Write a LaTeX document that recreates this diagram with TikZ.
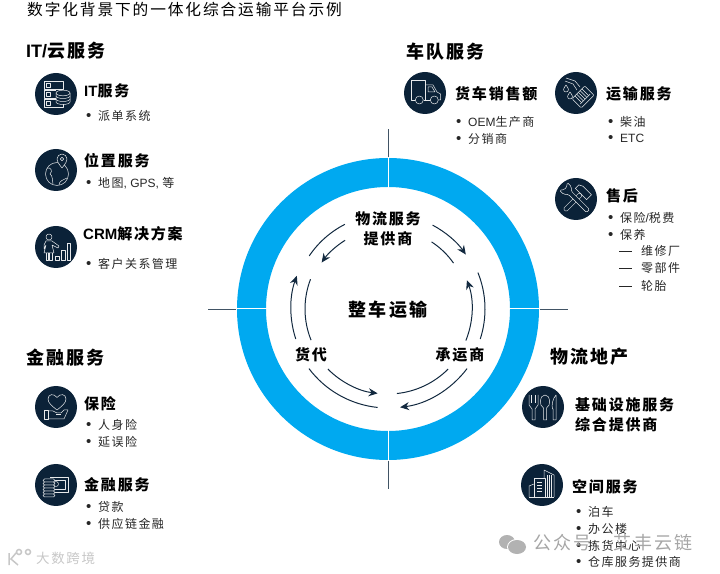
\documentclass[tikz,border=0pt]{standalone}
\usepackage{fontspec}
\setmainfont[LetterSpace=12]{Noto Sans CJK SC}
\newfontfamily\latfont{Liberation Sans}
\usetikzlibrary{arrows.meta}
\definecolor{ringblue}{HTML}{00A9F0}
\definecolor{iconnavy}{HTML}{0B2238}
\definecolor{flownavy}{HTML}{12293F}
\newcommand{\lat}[1]{{\latfont #1}}
\newcommand{\bul}{\makebox[12pt][l]{\lat{\fontsize{15}{14}\selectfont •}}}
\tikzset{
    titletext/.style={anchor=west, inner sep=0pt, font=\fontsize{15.7}{18}\selectfont},
    headtext/.style={anchor=west, inner sep=0pt, font=\fontsize{18}{22}\selectfont\bfseries},
    subtext/.style={anchor=west, inner sep=0pt, align=left, font=\fontsize{15}{20}\selectfont\bfseries},
    itemtext/.style={anchor=west, inner sep=0pt, font=\fontsize{12}{14}\selectfont, text=black!85},
    hubtext/.style={align=center, inner sep=0pt, font=\fontsize{15}{20}\selectfont\bfseries},
    icondisc/.style={circle, fill=iconnavy, minimum size=42pt, inner sep=0pt},
    iconline/.style={draw=white!90!iconnavy, line width=0.5pt, line join=round},
    flowline/.style={draw=flownavy, line width=1pt},
    flowtip/.style={flowline, -{Stealth[length=9pt,width=8pt]}},
    axisline/.style={draw=flownavy!80, line width=0.7pt},
    markmain/.style={text=black!35, font=\fontsize{18}{22}\selectfont},
}
\begin{document}
\begin{tikzpicture}[x=1pt, y=1pt]
    \useasboundingbox (0,0) rectangle (720,573);

    % Ring
    \coordinate (hub) at (388,264);
    \fill[ringblue, even odd rule] (hub) circle (151) (hub) circle (122);
    \foreach \a in {0,90,180,270} {
        \draw[white, line width=1pt] ([shift={(\a:121)}]hub) -- ([shift={(\a:152)}]hub);
    }

    % Ticks outside the ring
    \draw[axisline] ([shift={(180:152)}]hub) -- ([shift={(180:180)}]hub);
    \draw[axisline] ([shift={(270:152)}]hub) -- ([shift={(270:180)}]hub);
    \draw[axisline] ([shift={(0:152)}]hub) -- ([shift={(0:180)}]hub);
    \draw[axisline] ([shift={(90:152)}]hub) -- ([shift={(90:180)}]hub);

    % Flow arcs
    \foreach \from/\to/\rad/\kind in {
        62/35/95/flowtip, 57/35/80/flowline,
        22/-18/97/flowline, -22/20/84/flowtip,
        -45/-84/85/flowline, -37/-83/99/flowtip,
        217/264/99/flowline, 225/263/85/flowtip,
        198/160/97/flowtip, 202/159/83/flowline,
        117/146/95/flowline, 122/145/81/flowtip} {
        \draw[\kind] ([shift={(\from:\rad)}]hub) arc[start angle=\from, end angle=\to, radius=\rad];
    }

    % Ring labels
    \node[hubtext] (provider) at (388,344) {物流服务\\提供商};
    \node[hubtext, font=\fontsize{18}{22}\selectfont\bfseries] (truckload) at (388,263) {整车运输};
    \node[hubtext] (forwarder) at (311,218) {货代};
    \node[hubtext] (carrier) at (460,218) {承运商};

    % Title and group headings
    \node[titletext] (title) at (27,563) {数字化背景下的一体化综合运输平台示例};
    \node[headtext] (itcloud) at (26,522) {\lat{IT/}云服务};
    \node[headtext] (fleet) at (406,521) {车队服务};
    \node[headtext] (finance) at (26,215) {金融服务};
    \node[headtext] (property) at (550,216) {物流地产};

    % Service names
    \foreach \name/\x/\y/\label in {
        itserv/84/482/{\lat{IT}服务}, locserv/84/412/位置服务, crmserv/83/339/{\lat{CRM}解决方案},
        truckserv/455/479/货车销售额, fuelserv/606/479/运输服务, afterserv/606/377/售后,
        insserv/84/169/保险, finserv/84/88/金融服务,
        spaceserv/572/86/空间服务} {
        \node[subtext] (\name) at (\x,\y) {\label};
    }
    \node[subtext] (infraserv) at (575,158) {基础设施服务\\综合提供商};

    % Bullet items
    \foreach \name/\x/\y/\label in {
        dispatch/86/457/派单系统, maps/86/390/{地图\lat{, GPS, }等}, crm/86/309/客户关系管理,
        oem/456/451/{\lat{OEM}生产商}, dealer/456/434/分销商,
        diesel/608/451/柴油, etc/608/435/\lat{ETC},
        taxes/608/355/{保险\lat{/}税费}, upkeep/608/338/保养,
        life/86/148/人身险, delay/86/131/延误险,
        loans/86/66/贷款, chain/86/49/供应链金融,
        parking/576/61/泊车, office/576/44/办公楼, picking/576/27/拣货中心, depot/576/11/仓库服务提供商} {
        \node[itemtext] (\name) at (\x,\y) {\bul\label};
    }
    \foreach \name/\y/\label in {garage/322/维修厂, parts/305/零部件, tyres/287/轮胎} {
        \node[itemtext] (\name) at (641,\y) {\label};
        \draw[black!85, line width=0.7pt] (619,\y) -- (632,\y);
    }

    % Icon discs
    \foreach \name/\x/\y in {
        discit/56/479, discloc/56/403, disccrm/56/326,
        disctruck/425/480, discfuel/576/480, disctools/576/374,
        dischand/56/166, disccash/56/88, disccut/543/166, disccity/542/88} {
        \node[icondisc] (\name) at (\x,\y) {};
    }

    % Server icon
    \begin{scope}[shift={(discit)}, iconline]
        \foreach \y in {5,-4,-13} {
            \draw (-12,\y) rectangle (7,\y+8);
            \draw (-10,\y+2) rectangle (-6,\y+6);
        }
        \fill[iconnavy] (0,-10) rectangle (14,4);
        \draw (0,1) -- (0,-8) arc[start angle=180, end angle=360, x radius=7, y radius=2.5] -- (14,1);
        \draw (7,1) ellipse (7 and 2.8);
        \draw (0,-2) arc[start angle=180, end angle=360, x radius=7, y radius=2.5];
        \draw (0,-5) arc[start angle=180, end angle=360, x radius=7, y radius=2.5];
    \end{scope}

    % Globe icon
    \begin{scope}[shift={(discloc)}, iconline]
        \draw (1,-4) circle (11.5);
        \draw[fill=iconnavy] (6,2) .. controls (2,7) and (1,9) .. (1,11) arc[start angle=180, end angle=0, radius=5] .. controls (11,9) and (10,7) .. (6,2);
        \draw (6,11) circle (1.7);
        \draw (-9,2) .. controls (-5,3) and (-3,-1) .. (-6,-4) .. controls (-3,-6) and (-4,-10) .. (-3,-14);
        \draw (3,-15) .. controls (3,-11) and (7,-10) .. (11,-8);
    \end{scope}

    % Person and bars icon
    \begin{scope}[shift={(disccrm)}, iconline]
        \draw (-7,10) circle (3);
        \draw (-10,6) -- (-4,6) -- (3,1) -- (2,-1) -- (-4,2) -- (-2,-6) -- (-12,-6) -- (-10,2) -- (-12,-2) -- (-12,2) -- cycle;
        \draw (-10,-6) -- (-10,-13) -- (-7.5,-13) -- (-7.5,-6) (-6.5,-6) -- (-6.5,-13) -- (-4,-13) -- (-4,-6);
        \draw (-1,-13) rectangle (3,-9);
        \draw (5,-13) rectangle (9,-3);
        \draw (11,-13) rectangle (14,4);
    \end{scope}

    % Truck icon
    \begin{scope}[shift={(disctruck)}, iconline]
        \draw (-10,-7) -- (-14,-7) -- (-14,13) -- (0,13) -- (0,-7) -- (-1.5,-7) (0,-7) -- (5,-7);
        \draw (0,8) -- (8,8) -- (12,1) -- (15.5,-1) -- (15.5,-7) -- (13.5,-7);
        \draw (3,1) -- (3,6) -- (7,6) -- (10,1) -- cycle;
        \draw (-5.7,-7) circle (4);
        \draw (9.3,-7) circle (4);
    \end{scope}

    % Fuel nozzle icon
    \begin{scope}[shift={(discfuel)}, iconline]
        \draw (-10,15) -- (-1,12) -- (4,6);
        \draw (-11,12) -- (-3,9) -- (1,3);
        \begin{scope}[shift={(7,-4)}, rotate=45]
            \draw[rounded corners=1pt] (-9,-6.5) rectangle (9,6.5);
            \foreach \x in {-5,-2.5,0,2.5,5} { \draw (\x,-3) -- (\x,6.5); }
            \draw (-7,-3) -- (7,-3);
        \end{scope}
        \draw (-10,8) .. controls (-11,6) and (-12.5,5) .. (-12.5,3.5) arc[start angle=180, end angle=360, radius=2.5] .. controls (-7.5,5) and (-9,6) .. (-10,8);
        \draw (-6,1) .. controls (-7,-1) and (-8.5,-2) .. (-8.5,-3.5) arc[start angle=180, end angle=360, radius=2.5] .. controls (-3.5,-2) and (-5,-1) .. (-6,1);
    \end{scope}

    % Hammer and wrench icon
    \begin{scope}[shift={(disctools)}, iconline]
        \begin{scope}[rotate=-45]
            \draw[rounded corners=1.5pt] (-2.2,-16) rectangle (2.2,7);
            \draw (-8,7) -- (-8,12) -- (-4,14) -- (8,14) -- (8,7) -- cycle;
        \end{scope}
        \begin{scope}[rotate=45]
            \fill[iconnavy] (-2.2,-13) rectangle (2.2,9);
            \draw[rounded corners=1.5pt] (-2.2,-17) -- (-2.2,9) -- (-5.5,12) -- (-5.5,18) -- (-2,15) -- (2,15) -- (5.5,18) -- (5.5,12) -- (2.2,9) -- (2.2,-17) -- cycle;
        \end{scope}
    \end{scope}

    % Heart and hand icon
    \begin{scope}[shift={(dischand)}, iconline]
        \draw (1,-3) .. controls (-4,1) and (-8,4) .. (-8,8) .. controls (-8,13) and (-2,14) .. (1,9.5) .. controls (4,14) and (10,13) .. (10,8) .. controls (10,4) and (6,1) .. (1,-3);
        \draw (-12,-12) rectangle (-8,-3);
        \draw (-8,-4) -- (-3,-4) -- (1,-6) -- (5,-6) -- (8,-3) -- (12,-3) -- (8,-12) -- (-8,-12);
        \draw (0,-7.5) -- (5,-7.5);
    \end{scope}

    % Cash and coins icon
    \begin{scope}[shift={(disccash)}, iconline]
        \draw (-6,8) -- (12,8) -- (12,-7) -- (-1,-7);
        \draw (-3,5) -- (9,5) -- (9,-4) -- (-1,-4);
        \draw (0,1) circle (2.5);
        \foreach \y in {-12,-9,-6,-3,0,3} {
            \draw[fill=iconnavy, rounded corners=1.5pt] (-13,\y) rectangle (-1,\y+3);
        }
    \end{scope}

    % Cutlery icon
    \begin{scope}[shift={(disccut)}, iconline]
        \draw (-14,12) -- (-14,2) .. controls (-14,0) and (-11,0) .. (-11,-2) -- (-11,-13) -- (-8,-13) -- (-8,-2) .. controls (-8,0) and (-5,0) .. (-5,2) -- (-5,12);
        \draw (-11.5,12) -- (-11.5,4) (-7.5,12) -- (-7.5,4);
        \draw (2,12) .. controls (-4,12) and (-4,1) .. (0.5,-1) -- (0.5,-13) -- (3.5,-13) -- (3.5,-1) .. controls (8,1) and (8,12) .. (2,12);
        \draw (13,12) .. controls (9.5,8) and (8.5,2) .. (9.5,-2) -- (10,-2) -- (10,-13) -- (13,-13) -- cycle;
    \end{scope}

    % Buildings icon
    \begin{scope}[shift={(disccity)}, iconline]
        \draw (-13,-12) -- (-13,-1) -- (-8,1);
        \draw (-8,-12) rectangle (3,7);
        \draw (2,7) -- (2,15) -- (12,10) -- (12,-12);
        \foreach \y in {3,0,-3,-6} { \draw (-5,\y) -- (0,\y); }
        \foreach \x in {5,7,9} { \draw (\x,10) -- (\x,-12); }
        \draw (-13,-12) -- (12,-12);
    \end{scope}

    % Watermarks
    \node[markmain, anchor=west, inner sep=0pt] (markright) at (533,30) {公众号 \hspace{10pt} 艾丰云链};
    \fill[black!30] (507,31) ellipse (8 and 7);
    \fill[white] (517,26) ellipse (10 and 8);
    \fill[black!30] (517,26) ellipse (9 and 7);
    \node[markmain, anchor=west, inner sep=0pt, text=black!22, font=\fontsize{13.5}{18}\selectfont] (markleft) at (36,15) {大数跨境};
    \draw[black!22, line width=1.5pt] (9,8) -- (9,20) (16,20) -- (11,14) -- (18,8) (19,21) circle (2.5) (28,21) circle (2.5);
\end{tikzpicture}
\end{document}
